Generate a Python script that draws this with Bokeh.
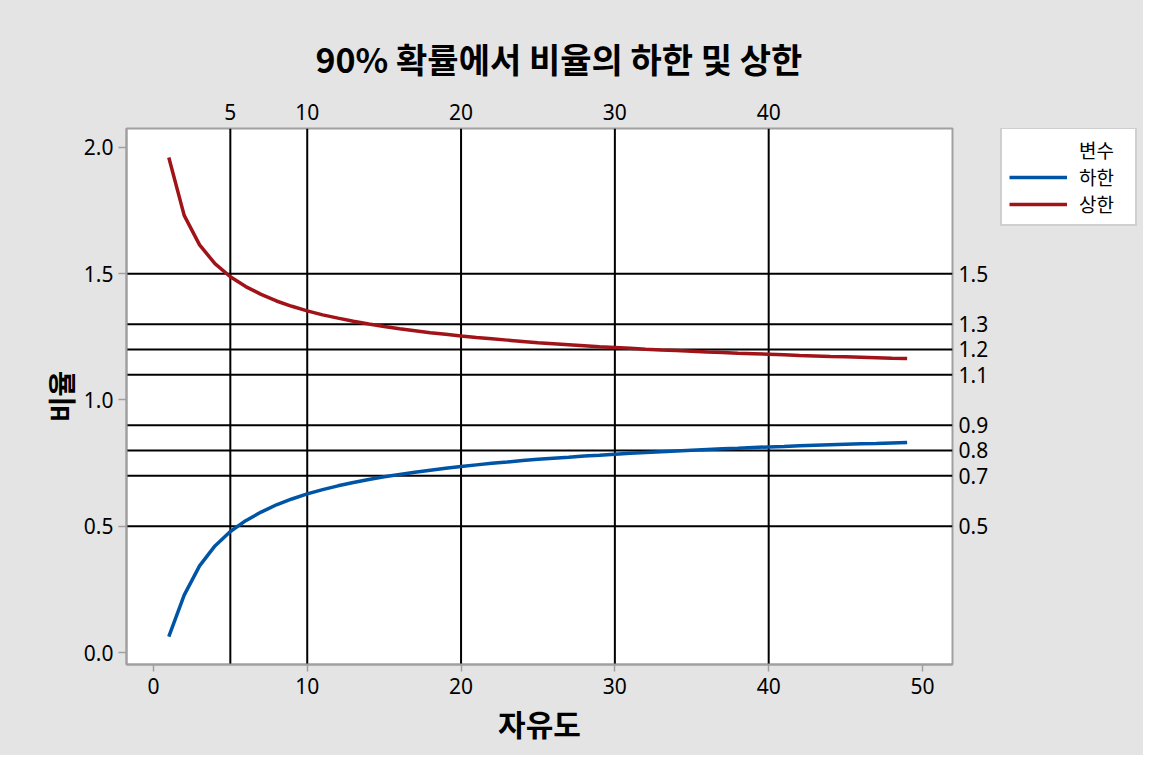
from bokeh.plotting import figure
from bokeh.layouts import row
from bokeh.models import (LinearAxis, FixedTicker, Span, Legend, LegendItem,
                          Range1d, Title, CustomJSTickFormatter)
from bokeh.embed import file_html
from bokeh.resources import INLINE

# ---- data ----
df = list(range(1, 50))
lower = [0.063, 0.227, 0.343, 0.422, 0.479, 0.522, 0.556, 0.585, 0.608, 0.628,
         0.645, 0.660, 0.673, 0.685, 0.696, 0.705, 0.714, 0.722, 0.730, 0.737,
         0.743, 0.749, 0.754, 0.760, 0.765, 0.769, 0.773, 0.778, 0.781, 0.785,
         0.789, 0.792, 0.795, 0.798, 0.801, 0.804, 0.807, 0.809, 0.812, 0.814,
         0.816, 0.819, 0.821, 0.823, 0.825, 0.827, 0.828, 0.830, 0.832]
upper = [1.960, 1.731, 1.614, 1.540, 1.488, 1.449, 1.418, 1.392, 1.371, 1.353,
         1.337, 1.324, 1.312, 1.301, 1.291, 1.282, 1.274, 1.266, 1.260, 1.253,
         1.247, 1.242, 1.237, 1.232, 1.227, 1.223, 1.219, 1.215, 1.211, 1.208,
         1.205, 1.201, 1.198, 1.196, 1.193, 1.190, 1.188, 1.185, 1.183, 1.181,
         1.179, 1.176, 1.174, 1.172, 1.171, 1.169, 1.167, 1.165, 1.164]
x_ref = [5, 10, 20, 30, 40]
y_ref = [0.5, 0.7, 0.8, 0.9, 1.1, 1.2, 1.3, 1.5]
x_ticks = [0, 10, 20, 30, 40, 50]
y_ticks = [0.0, 0.5, 1.0, 1.5, 2.0]
series_names = ["하한", "상한"]
legend_title = "변수"
title_text = "90% 확률에서 비율의 하한 및 상한"
x_label = "자유도"
y_label = "비율"

BG = "#e4e4e4"
FRAME = "#a0a0a0"
BLUE = "#0054a6"
RED = "#a01419"
NUM_FONT = "Noto Sans"
KR_FONT = "Noto Sans CJK KR"
TICK_SIZE = "21px"
H = 755
MAIN_W = 995
LEG_W = 148

p = figure(width=MAIN_W, height=H, output_backend="svg", toolbar_location=None,
           x_range=Range1d(-1.75, 51.95), y_range=Range1d(-0.0475, 2.075),
           min_border_left=126, min_border_right=43, min_border_top=128,
           min_border_bottom=91, title=None)
p.background_fill_color = "white"
p.border_fill_color = BG
p.outline_line_color = FRAME
p.outline_line_width = 2
p.xgrid.visible = False
p.ygrid.visible = False


def style_axis(ax, tick_out):
    ax.major_label_text_font = NUM_FONT
    ax.major_label_text_font_size = TICK_SIZE
    ax.major_label_text_color = "black"
    ax.major_tick_out = tick_out
    ax.major_tick_in = 0
    ax.minor_tick_out = 0
    ax.minor_tick_in = 0
    ax.major_tick_line_color = FRAME
    ax.major_tick_line_width = 1.5


# bottom axis
xa = p.xaxis[0]
xa.ticker = FixedTicker(ticks=x_ticks)
style_axis(xa, 7)
xa.major_label_standoff = 6
xa.axis_label = x_label
xa.axis_label_text_font = KR_FONT
xa.axis_label_text_font_size = "30px"
xa.axis_label_text_font_style = "bold"
xa.axis_label_text_color = "black"
xa.axis_label_standoff = 4
xa.axis_line_color = FRAME
xa.axis_line_width = 2

# left axis
ya = p.yaxis[0]
ya.ticker = FixedTicker(ticks=y_ticks)
ya.formatter = CustomJSTickFormatter(code="return tick.toFixed(1);")
style_axis(ya, 8)
ya.major_label_standoff = 5
ya.axis_label = y_label
ya.axis_label_text_font = KR_FONT
ya.axis_label_text_font_size = "28px"
ya.axis_label_text_font_style = "bold"
ya.axis_label_text_color = "black"
ya.axis_label_standoff = 0
ya.axis_line_color = FRAME
ya.axis_line_width = 2

# top axis (reference-line values)
ta = LinearAxis(ticker=FixedTicker(ticks=x_ref))
style_axis(ta, 0)
ta.major_label_standoff = 9
ta.axis_line_color = None
p.add_layout(ta, "above")

# title (added after the top axis so it sits above it)
p.add_layout(Title(text=title_text, text_font=KR_FONT, text_font_size="34px",
                   text_font_style="bold", align="left", offset=189,
                   standoff=36, text_color="black"), "above")

# right axis (reference-line values)
ra = LinearAxis(ticker=FixedTicker(ticks=y_ref),
                formatter=CustomJSTickFormatter(code="return tick.toFixed(1);"))
style_axis(ra, 0)
ra.major_label_standoff = 6
ra.axis_line_color = None
p.add_layout(ra, "right")

# reference lines
for xv in x_ref:
    p.add_layout(Span(location=xv, dimension="height", line_color="black",
                      line_width=2, level="underlay"))
for yv in y_ref:
    p.add_layout(Span(location=yv, dimension="width", line_color="black",
                      line_width=2, level="underlay"))

# series
p.line(df, lower, line_color=BLUE, line_width=3.5)
p.line(df, upper, line_color=RED, line_width=3.5)

# ---- legend panel (separate, axis-free figure to the right) ----
# the series are drawn again here outside the visible range, only so the
# legend has real renderers to show its line samples
q = figure(width=LEG_W, height=H, output_backend="svg", toolbar_location=None,
           x_range=Range1d(-20, -10), y_range=Range1d(-20, -10),
           x_axis_location=None, y_axis_location=None, min_border=0, title=None)
q.background_fill_color = BG
q.border_fill_color = BG
q.outline_line_color = None
q.xgrid.visible = False
q.ygrid.visible = False
l_dummy = q.line(df, lower, line_alpha=0)
l_low = q.line(df, lower, line_color=BLUE, line_width=3.5)
l_up = q.line(df, upper, line_color=RED, line_width=3.5)

legend = Legend(items=[LegendItem(label=legend_title, renderers=[l_dummy]),
                       LegendItem(label=series_names[0], renderers=[l_low]),
                       LegendItem(label=series_names[1], renderers=[l_up])],
                location=(5, 438))
legend.label_text_font = KR_FONT
legend.label_text_font_size = "19px"
legend.label_text_color = "black"
legend.label_height = 20
legend.glyph_height = 20
legend.glyph_width = 58
legend.label_standoff = 12
legend.label_width = 49
legend.spacing = 0
legend.padding = 7
legend.margin = 0
legend.border_line_color = FRAME
legend.border_line_width = 2
legend.background_fill_color = "white"
legend.background_fill_alpha = 1
q.add_layout(legend, "center")

layout = row(p, q, spacing=0, styles={"background-color": BG})
open("out.html", "w").write(file_html(layout, INLINE))
